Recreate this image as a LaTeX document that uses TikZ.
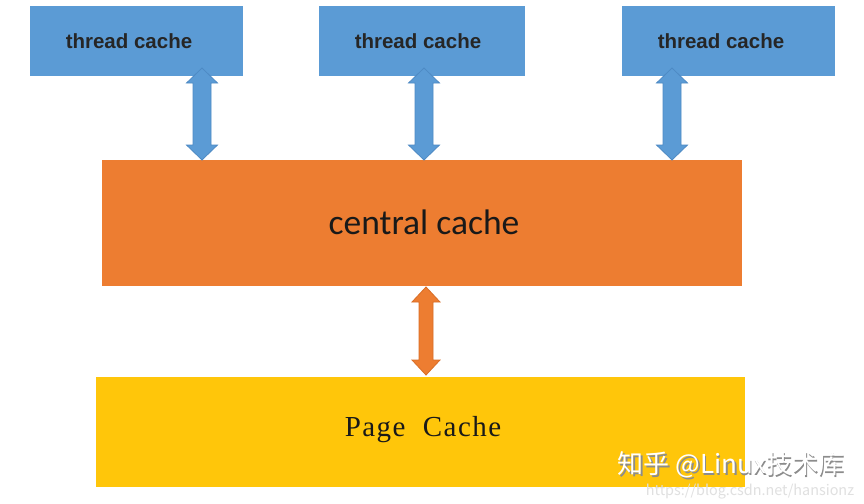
\documentclass[tikz,border=0pt]{standalone}
\usepackage{fontspec}
\usetikzlibrary{calc}
\newfontfamily\tcfont{Liberation Sans}
\newfontfamily\ccfont{Carlito}
\newfontfamily\pcfont[LetterSpace=5]{Liberation Serif}
\newfontfamily\cjkfont{Noto Sans CJK SC}
\definecolor{tblue}{HTML}{5B9BD5}
\definecolor{tblueline}{HTML}{4E8AC4}
\definecolor{corange}{HTML}{ED7D31}
\definecolor{corangeline}{HTML}{D96E26}
\definecolor{pyellow}{HTML}{FFC60A}
\newcommand\blockarrow[3]{%
  \path[#1] let \p1=(#2), \p2=(#3) in
    (\x1,\y1) -- (\x1+\headhw,\y1-\headlen) -- (\x1+\shafthw,\y1-\headlen)
    -- (\x2+\shafthw,\y2+\headlen) -- (\x2+\headhw,\y2+\headlen) -- (\x2,\y2)
    -- (\x2-\headhw,\y2+\headlen) -- (\x2-\shafthw,\y2+\headlen)
    -- (\x1-\shafthw,\y1-\headlen) -- (\x1-\headhw,\y1-\headlen) -- cycle;}
\newlength\headhw \newlength\shafthw \newlength\headlen
\tikzset{
  box/.style={anchor=north west, inner sep=0pt, outer sep=0pt},
  tbox/.style={box, fill=tblue, minimum height=70pt},
  tlabel/.style={font=\tcfont\bfseries\fontsize{20.5}{22}\selectfont, text=black!85},
  barrow/.style={fill=tblue, draw=tblueline, line width=0.8pt},
  oarrow/.style={fill=corange, draw=corangeline, line width=0.8pt},
}
\begin{document}
\begin{tikzpicture}[x=1pt,y=-1pt]
\useasboundingbox (0,0) rectangle (864,503);
\fill[white] (0,0) rectangle (864,503);
% thread caches
\node[tbox, minimum width=213pt] (t1) at (30,6) {};
\node[tbox, minimum width=206pt] (t2) at (319,6) {};
\node[tbox, minimum width=213pt] (t3) at (622,6) {};
\node[tlabel] (l1) at (129,41) {thread cache};
\node[tlabel] (l2) at (418,41) {thread cache};
\node[tlabel] (l3) at (721,41) {thread cache};
% central cache
\node[box, fill=corange, minimum width=640pt, minimum height=126pt] (cc) at (102,160) {};
\node[font=\ccfont\fontsize{35.5}{38}\selectfont, text=black!90] (ccl) at (424,222) {central cache};
% page cache
\node[box, fill=pyellow, minimum width=649pt, minimum height=110pt] (pc) at (96,377) {};
\node[font=\pcfont\fontsize{29}{31}\selectfont, text=black!90] (pcl) at (423,430) {Page\ \ Cache};
% arrows
\coordinate (a1t) at (202,68);
\coordinate (a1b) at (202,160);
\coordinate (a2t) at (424,68);
\coordinate (a2b) at (424,160);
\coordinate (a3t) at (672,68);
\coordinate (a3b) at (672,160);
\coordinate (a4t) at (426,287);
\coordinate (a4b) at (426,375);
\setlength\headhw{15.5pt}\setlength\shafthw{9pt}\setlength\headlen{15pt}
\blockarrow{barrow}{a1t}{a1b}
\blockarrow{barrow}{a2t}{a2b}
\blockarrow{barrow}{a3t}{a3b}
\setlength\headhw{14pt}\setlength\shafthw{7pt}\setlength\headlen{15pt}
\blockarrow{oarrow}{a4t}{a4b}
% watermark
\node[font=\cjkfont\fontsize{26}{28}\selectfont, text=black!45] (wms) at (732.5,466.5) {知乎 @Linux技术库};
\node[font=\cjkfont\fontsize{26}{28}\selectfont, text=white] (wm) at (731,465) {知乎 @Linux技术库};
\node[font=\cjkfont\fontsize{14.4}{16}\selectfont, text=black!12] (url) at (750,492) {https://blog.csdn.net/hansionz};
\end{tikzpicture}
\end{document}
